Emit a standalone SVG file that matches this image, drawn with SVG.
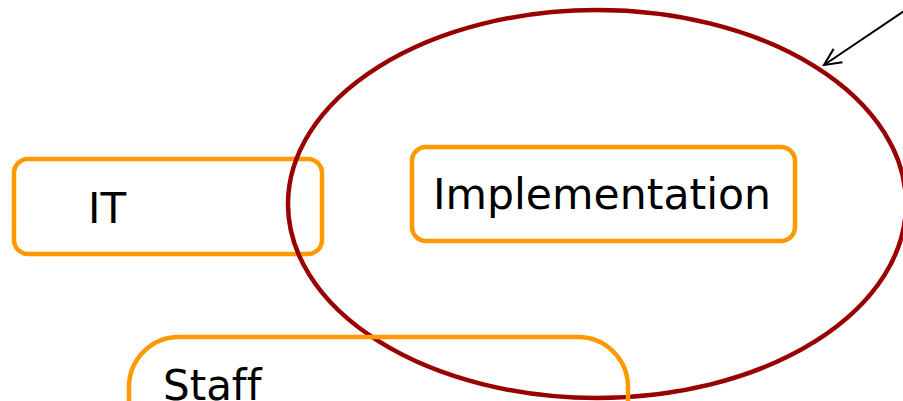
<svg xmlns="http://www.w3.org/2000/svg" width="903" height="401" viewBox="0 0 903 401">
<style>
.box{fill:none;stroke:#FF9900;stroke-width:4.5}
.lbl{font-family:"DejaVu Sans",Verdana,sans-serif;font-size:42px;fill:#000;font-variant-ligatures:none}
.ell{fill:none;stroke:#990000;stroke-width:4.5}
.arr{fill:none;stroke:#000;stroke-width:2}
</style>
<defs>
<marker id="open" viewBox="0 0 20 20" refX="18" refY="10" markerWidth="20" markerHeight="20" markerUnits="userSpaceOnUse" orient="auto">
<path d="M1,2 L18,10 L1,18" fill="none" stroke="#000" stroke-width="2"/>
</marker>
</defs>
<rect width="903" height="401" fill="#fff"/>
<g id="it">
<rect class="box" x="14" y="159" width="308" height="95" rx="14"/>
<text class="lbl" x="88" y="223">IT</text>
</g>
<g id="scope">
<ellipse class="ell" cx="597" cy="204" rx="309" ry="194"/>
</g>
<g id="implementation">
<rect class="box" x="412" y="147" width="383" height="94" rx="14"/>
<text class="lbl" x="433" y="209" textLength="338" lengthAdjust="spacingAndGlyphs">Implementation</text>
</g>
<g id="staff">
<path class="box" d="M129,410 L129,386 A50,50 0 0 1 179,337 L578,337 A50,50 0 0 1 628,386 L628,410"/>
<text class="lbl" x="163" y="400">Staff</text>
</g>
<g id="connectors">
<line class="arr" x1="922" y1="-1" x2="824" y2="65" marker-end="url(#open)"/>
</g>
</svg>
